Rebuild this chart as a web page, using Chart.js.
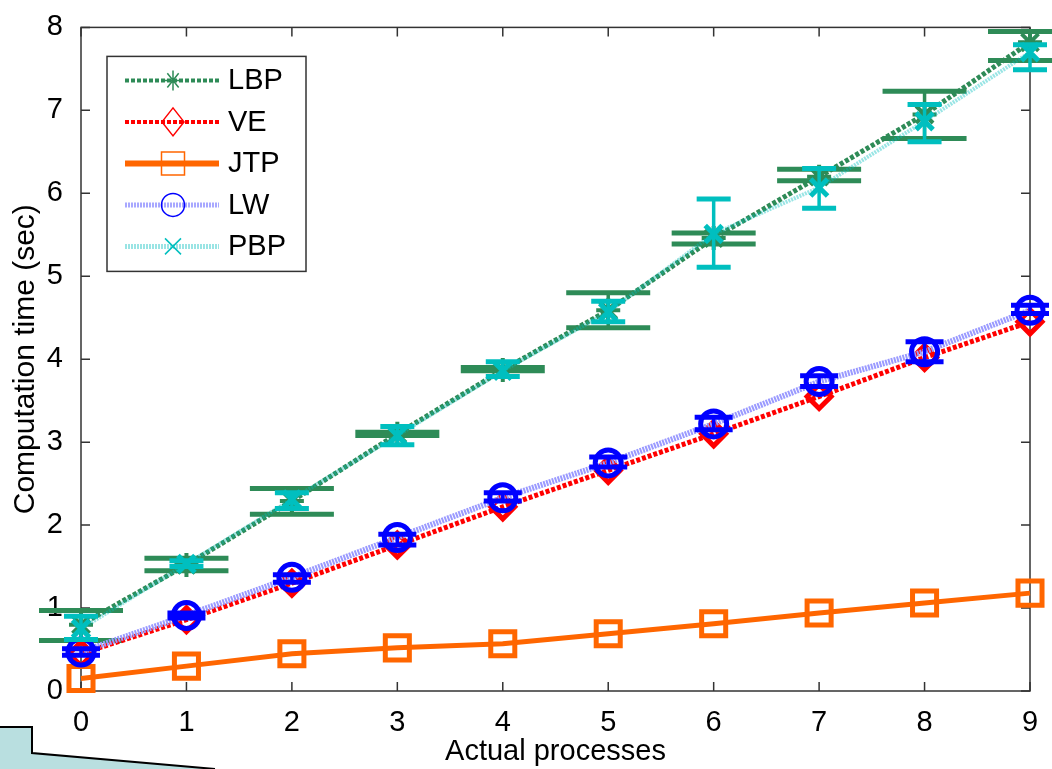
<!DOCTYPE html>
<html>
<head>
<meta charset="utf-8">
<title>Computation time vs actual processes</title>
<script src="https://cdn.jsdelivr.net/npm/chart.js"></script>
<style>
    html, body { margin: 0; padding: 0; background: #fff; }
    canvas { display: block; }
</style>
</head>
<body>
<canvas id="grafico" width="1052" height="769"></canvas>
<script>
// 1. Datos
const procesos = [0, 1, 2, 3, 4, 5, 6, 7, 8, 9];

const lbp     = [0.80, 1.52, 2.29, 3.10, 3.87, 4.59, 5.46, 6.20, 6.95, 7.82];
const lbpLow  = [0.61, 1.45, 2.13, 3.08, 3.86, 4.38, 5.39, 6.15, 6.66, 7.60];
const lbpHigh = [0.97, 1.60, 2.44, 3.12, 3.90, 4.80, 5.52, 6.29, 7.23, 7.95];

const ve  = [0.45, 0.86, 1.30, 1.76, 2.22, 2.66, 3.10, 3.55, 4.02, 4.45];

const jtp = [0.15, 0.30, 0.45, 0.52, 0.57, 0.69, 0.81, 0.94, 1.06, 1.18];

const lw     = [0.47, 0.91, 1.37, 1.85, 2.33, 2.75, 3.22, 3.73, 4.09, 4.59];
const lwLow  = [0.43, 0.88, 1.31, 1.76, 2.29, 2.70, 3.15, 3.67, 3.97, 4.55];
const lwHigh = [0.51, 0.94, 1.40, 1.89, 2.39, 2.82, 3.30, 3.80, 4.21, 4.65];

const pbp     = [0.75, 1.53, 2.31, 3.08, 3.86, 4.57, 5.51, 6.07, 6.87, 7.70];
const pbpLow  = [0.62, 1.50, 2.20, 2.97, 3.79, 4.45, 5.11, 5.82, 6.62, 7.49];
const pbpHigh = [0.90, 1.57, 2.39, 3.19, 3.97, 4.70, 5.93, 6.30, 7.07, 7.79];

const FUENTE = "'Liberation Sans', Arial, Helvetica, sans-serif";

function puntos(valores) {
    return valores.map((v, i) => ({ x: procesos[i], y: v }));
}

// 2. Barras de error (se dibujan justo después de cada serie)
const barrasError = {
    id: 'barrasError',
    afterDatasetDraw(chart, args) {
        const ds = chart.data.datasets[args.index];
        if (!ds.errLow) return;
        const ctx = chart.ctx;
        const x = chart.scales.x, y = chart.scales.y;
        ctx.save();
        ctx.strokeStyle = ds.errColor;
        ds.errLow.forEach((lo, i) => {
            const px = x.getPixelForValue(procesos[i]);
            const y1 = y.getPixelForValue(lo);
            const y2 = y.getPixelForValue(ds.errHigh[i]);
            const w = ds.capHalf;
            ctx.beginPath();
            ctx.lineWidth = 3.5;
            ctx.moveTo(px, y1); ctx.lineTo(px, y2);
            ctx.stroke();
            ctx.beginPath();
            ctx.lineWidth = 5;
            ctx.moveTo(px - w, y1); ctx.lineTo(px + w, y1);
            ctx.moveTo(px - w, y2); ctx.lineTo(px + w, y2);
            ctx.stroke();
        });
        ctx.restore();
    }
};

// 3. Marco tipo MATLAB con marcas hacia dentro
const marco = {
    id: 'marco',
    beforeDatasetsDraw(chart) {
        const { ctx, chartArea: a, scales: { x, y } } = chart;
        ctx.save();
        ctx.strokeStyle = '#333';
        ctx.lineWidth = 1.5;
        ctx.strokeRect(a.left, a.top, a.right - a.left, a.bottom - a.top);
        ctx.beginPath();
        x.ticks.forEach(t => {
            const px = x.getPixelForValue(t.value);
            ctx.moveTo(px, a.bottom); ctx.lineTo(px, a.bottom - 9);
            ctx.moveTo(px, a.top); ctx.lineTo(px, a.top + 9);
        });
        y.ticks.forEach(t => {
            const py = y.getPixelForValue(t.value);
            ctx.moveTo(a.left, py); ctx.lineTo(a.left + 9, py);
            ctx.moveTo(a.right, py); ctx.lineTo(a.right - 9, py);
        });
        ctx.stroke();
        ctx.restore();
    }
};

function dibujarMarcador(ctx, estilo, x, y) {
    ctx.beginPath();
    if (estilo === 'star') {
        for (let k = 0; k < 4; k++) {
            const ang = k * Math.PI / 4;
            const dx = Math.sin(ang) * 8, dy = Math.cos(ang) * 10;
            ctx.moveTo(x - dx, y - dy); ctx.lineTo(x + dx, y + dy);
        }
    } else if (estilo === 'rectRot') {
        ctx.moveTo(x, y - 14); ctx.lineTo(x + 11, y);
        ctx.lineTo(x, y + 14); ctx.lineTo(x - 11, y); ctx.closePath();
    } else if (estilo === 'rect') {
        ctx.rect(x - 11.5, y - 11.5, 23, 23);
    } else if (estilo === 'circle') {
        ctx.arc(x, y, 11.5, 0, Math.PI * 2);
    } else if (estilo === 'crossRot') {
        ctx.moveTo(x - 8, y - 8); ctx.lineTo(x + 8, y + 8);
        ctx.moveTo(x + 8, y - 8); ctx.lineTo(x - 8, y + 8);
    }
    ctx.stroke();
}

// 4. Leyenda dentro del área del gráfico
const leyenda = {
    id: 'leyenda',
    afterDatasetsDraw(chart) {
        const { ctx, chartArea: a } = chart;
        const x0 = a.left + 26, y0 = a.top + 29;
        ctx.save();
        ctx.fillStyle = '#fff';
        ctx.fillRect(x0, y0, 199, 215);
        ctx.strokeStyle = '#333';
        ctx.lineWidth = 1.5;
        ctx.strokeRect(x0, y0, 199, 215);
        chart.data.datasets.forEach((ds, i) => {
            const fy = y0 + 24 + i * 41.5;
            ctx.beginPath();
            ctx.strokeStyle = ds.legendColor || ds.borderColor;
            ctx.lineWidth = ds.legendWidth;
            ctx.setLineDash(ds.borderDash || []);
            ctx.moveTo(x0 + 18, fy); ctx.lineTo(x0 + 112, fy);
            ctx.stroke();
            ctx.setLineDash([]);
            ctx.strokeStyle = ds.pointBorderColor;
            ctx.lineWidth = 1.5;
            dibujarMarcador(ctx, ds.pointStyle, x0 + 66, fy);
            ctx.fillStyle = '#000';
            ctx.font = '29px ' + FUENTE;
            ctx.textBaseline = 'middle';
            ctx.fillText(ds.label, x0 + 121, fy + 1);
        });
        ctx.restore();
    }
};

// 5. Recorte decorativo de la diapositiva (esquina inferior izquierda)
const recorte = {
    id: 'recorte',
    afterDraw(chart) {
        const ctx = chart.ctx;
        ctx.save();
        ctx.beginPath();
        ctx.moveTo(0, 727); ctx.lineTo(32, 727); ctx.lineTo(32, 753);
        ctx.lineTo(215, 769); ctx.lineTo(0, 769); ctx.closePath();
        ctx.fillStyle = '#b9dfe0';
        ctx.fill();
        ctx.beginPath();
        ctx.moveTo(0, 727); ctx.lineTo(32, 727); ctx.lineTo(32, 753); ctx.lineTo(215, 769);
        ctx.strokeStyle = '#000';
        ctx.lineWidth = 2;
        ctx.stroke();
        ctx.restore();
    }
};

const datos = {
    datasets: [
        {
            label: 'LBP', data: puntos(lbp), order: 5,
            borderColor: '#2e8b57', borderWidth: 5, borderDash: [4, 2], legendWidth: 4,
            pointStyle: 'star', pointRadius: 12, pointBorderWidth: 4,
            pointBorderColor: '#2e8b57', pointBackgroundColor: 'rgba(0,0,0,0)',
            errLow: lbpLow, errHigh: lbpHigh, errColor: '#2e8b57', capHalf: 42
        },
        {
            label: 'VE', data: puntos(ve), order: 4,
            borderColor: '#ff0000', borderWidth: 5, borderDash: [4, 2], legendWidth: 4,
            pointStyle: 'rectRot', pointRadius: 12, pointBorderWidth: 5,
            pointBorderColor: '#ff0000', pointBackgroundColor: 'rgba(0,0,0,0)'
        },
        {
            label: 'JTP', data: puntos(jtp), order: 3,
            borderColor: '#ff6600', borderWidth: 5, legendWidth: 6,
            pointStyle: 'rect', pointRadius: 17, pointBorderWidth: 5,
            pointBorderColor: '#ff6600', pointBackgroundColor: 'rgba(0,0,0,0)'
        },
        {
            label: 'LW', data: puntos(lw), order: 2,
            borderColor: '#9a9aff', borderWidth: 6, borderDash: [2, 1],
            legendColor: '#a8a8ff', legendWidth: 5,
            pointStyle: 'circle', pointRadius: 13, pointBorderWidth: 5,
            pointBorderColor: '#0000ff', pointBackgroundColor: 'rgba(0,0,0,0)',
            errLow: lwLow, errHigh: lwHigh, errColor: '#0000ff', capHalf: 19
        },
        {
            label: 'PBP', data: puntos(pbp), order: 1,
            borderColor: 'rgba(0,191,191,0.4)', borderWidth: 4, borderDash: [2, 1],
            legendColor: '#9ae4e4', legendWidth: 5,
            pointStyle: 'crossRot', pointRadius: 12, pointBorderWidth: 5,
            pointBorderColor: '#00bfbf', pointBackgroundColor: 'rgba(0,0,0,0)',
            errLow: pbpLow, errHigh: pbpHigh, errColor: '#00bfbf', capHalf: 17
        }
    ]
};

const configuracion = {
    type: 'line',
    data: datos,
    plugins: [marco, barrasError, leyenda, recorte],
    options: {
        responsive: false,
        animation: false,
        events: [],
        layout: { padding: { left: 0, right: 14, top: 19, bottom: 0 } },
        elements: { line: { tension: 0 } },
        datasets: { line: { clip: false } },
        plugins: { legend: { display: false }, tooltip: { enabled: false } },
        scales: {
            x: {
                type: 'linear', min: 0, max: 9,
                grid: { display: false }, border: { display: false },
                ticks: { stepSize: 1, color: '#000', padding: 7, font: { family: FUENTE, size: 29 } },
                title: { display: true, text: 'Actual processes', color: '#000', padding: { top: 0, bottom: 0 },
                         font: { family: FUENTE, size: 29 } },
                afterFit(scale) { scale.height = 78; }
            },
            y: {
                type: 'linear', min: 0, max: 8,
                grid: { display: false }, border: { display: false },
                ticks: { stepSize: 1, color: '#000', padding: 10, font: { family: FUENTE, size: 29 } },
                title: { display: true, text: 'Computation time (sec)', color: '#000', padding: { top: 8, bottom: 0 },
                         font: { family: FUENTE, size: 30 } },
                afterFit(scale) { scale.width = 81; }
            }
        }
    }
};

new Chart(document.getElementById('grafico').getContext('2d'), configuracion);
</script>
</body>
</html>
